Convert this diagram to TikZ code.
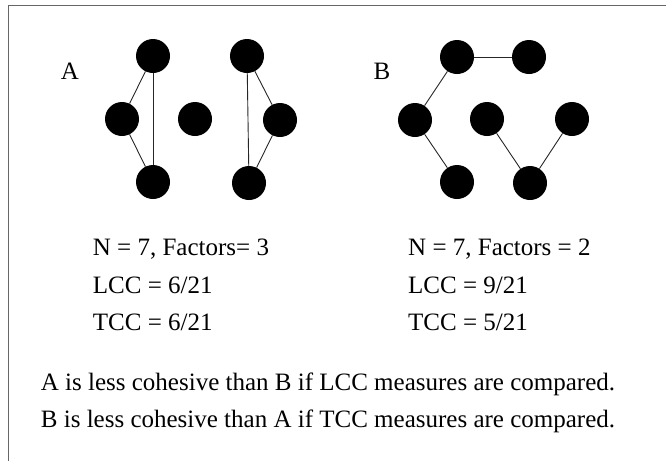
\documentclass[tikz,border=0pt]{standalone}
\usepackage{fontspec}
\setmainfont{Liberation Serif}
\usetikzlibrary{positioning}

\begin{document}
\begin{tikzpicture}[
    x=1pt, y=-1pt,
    font=\fontsize{25}{30}\selectfont,
    vertex/.style={
        circle,
        fill=black,
        draw=none,
        minimum size=34pt,
        inner sep=0pt
    },
    link/.style={
        draw=black!85,
        line width=0.9pt
    },
    frame/.style={
        draw=gray!80!black,
        line width=1.6pt
    },
    caption/.style={
        anchor=base west,
        inner sep=0pt
    },
    tag/.style={
        anchor=base,
        inner sep=0pt
    }
]
\useasboundingbox (0,0) rectangle (666,461);

% Frame
\coordinate (corner) at (8.3,5.3);
\draw[frame] (666,5.3) -- (corner) -- (8.3,461);

% Graph A
\node[tag] (labA) at (70,79) {A};
\node[vertex] (a1) at (153,56) {};
\node[vertex] (a2) at (122,119) {};
\node[vertex] (a3) at (153,182) {};
\node[vertex] (a4) at (195,119) {};
\node[vertex] (a5) at (247,56) {};
\node[vertex] (a6) at (280,120) {};
\node[vertex] (a7) at (249,183) {};
\draw[link] (a1) -- (a2);
\draw[link] (a2) -- (a3);
\draw[link] (a1) -- (a3);
\draw[link] (a5) -- (a6);
\draw[link] (a6) -- (a7);
\draw[link] (a5) -- (a7);

% Graph B
\node[tag] (labB) at (382,79) {B};
\node[vertex] (b1) at (457,57) {};
\node[vertex] (b2) at (529,57) {};
\node[vertex] (b3) at (415,120) {};
\node[vertex] (b4) at (487,119) {};
\node[vertex] (b5) at (572,119) {};
\node[vertex] (b6) at (457,182) {};
\node[vertex] (b7) at (530,183) {};
\draw[link] (b1) -- (b2);
\draw[link] (b1) -- (b3);
\draw[link] (b3) -- (b6);
\draw[link] (b4) -- (b7);
\draw[link] (b7) -- (b5);

% Measures
\node[caption] (factA) at (92.7,255) {N = 7, Factors= 3};
\node[caption] (lccA) at (92.7,293) {LCC = 6/21};
\node[caption] (tccA) at (92.7,330) {TCC = 6/21};
\node[caption] (factB) at (408,255) {N = 7, Factors = 2};
\node[caption] (lccB) at (408,293) {LCC = 9/21};
\node[caption] (tccB) at (408,330) {TCC = 5/21};

% Conclusion
\node[caption] (noteL) at (40.7,390) {A is less cohesive than B if LCC measures are compared.};
\node[caption] (noteT) at (40.7,427.5) {B is less cohesive than A if TCC measures are compared.};

\end{tikzpicture}
\end{document}
